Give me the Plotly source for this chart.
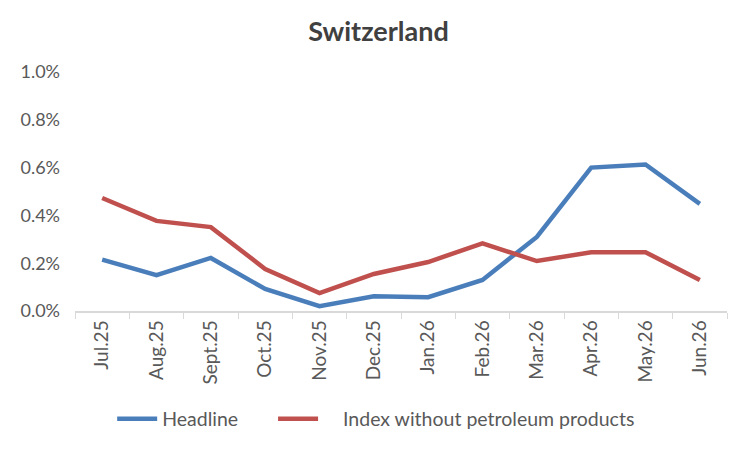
import plotly.graph_objects as go

# Monthly change, in percent
months = ["Jul.25", "Aug.25", "Sept.25", "Oct.25", "Nov.25", "Dec.25",
          "Jan.26", "Feb.26", "Mar.26", "Apr.26", "May.26", "Jun.26"]
headline = [0.215, 0.150, 0.222, 0.092, 0.020, 0.062,
            0.058, 0.130, 0.310, 0.600, 0.613, 0.448]
ex_petroleum = [0.473, 0.377, 0.351, 0.176, 0.075, 0.155,
                0.205, 0.283, 0.209, 0.246, 0.246, 0.130]
y_ticks = [0.0, 0.2, 0.4, 0.6, 0.8, 1.0]

GREY = "#595959"
FONT = "Lato"

fig = go.Figure()
fig.add_trace(go.Scatter(
    x=months, y=headline, name="Headline      ", mode="lines",
    line=dict(color="#4a7ebb", width=4.5),
))
fig.add_trace(go.Scatter(
    x=months, y=ex_petroleum, name="    Index without petroleum products", mode="lines",
    line=dict(color="#c0504d", width=4.5),
))

# page body has an 8px margin, so the figure is a little smaller than the window
fig.update_layout(
    width=741, height=442,
    margin=dict(l=65, r=22, t=64, b=139),
    plot_bgcolor="white", paper_bgcolor="white",
    font=dict(family=FONT, size=18, color=GREY),
    title=dict(text="<b>Switzerland</b>", x=0.5, xref="container", y=0.946,
               xanchor="center", yanchor="middle",
               font=dict(family=FONT, size=27, color="#404040")),
    showlegend=True,
    legend=dict(orientation="h", x=0.057, xanchor="left", y=-0.452, yanchor="middle",
                font=dict(size=19.5, color=GREY), itemwidth=40,
                traceorder="normal"),
)
fig.update_xaxes(
    type="category", range=[-0.5, len(months) - 0.5],
    tickangle=-90, tickson="boundaries",
    showline=True, linecolor="#d9d9d9", linewidth=1.5,
    ticks="outside", ticklen=6, tickcolor="#d9d9d9",
    showgrid=False, tickfont=dict(size=19, color=GREY),
)
fig.update_yaxes(
    range=[0, 1.0], tickvals=y_ticks,
    ticktext=[f"{v:.1f}%" for v in y_ticks],
    showgrid=False, zeroline=False, showline=False,
    ticklabelstandoff=14, tickfont=dict(size=18, color=GREY),
)

fig.write_html("out.html")
